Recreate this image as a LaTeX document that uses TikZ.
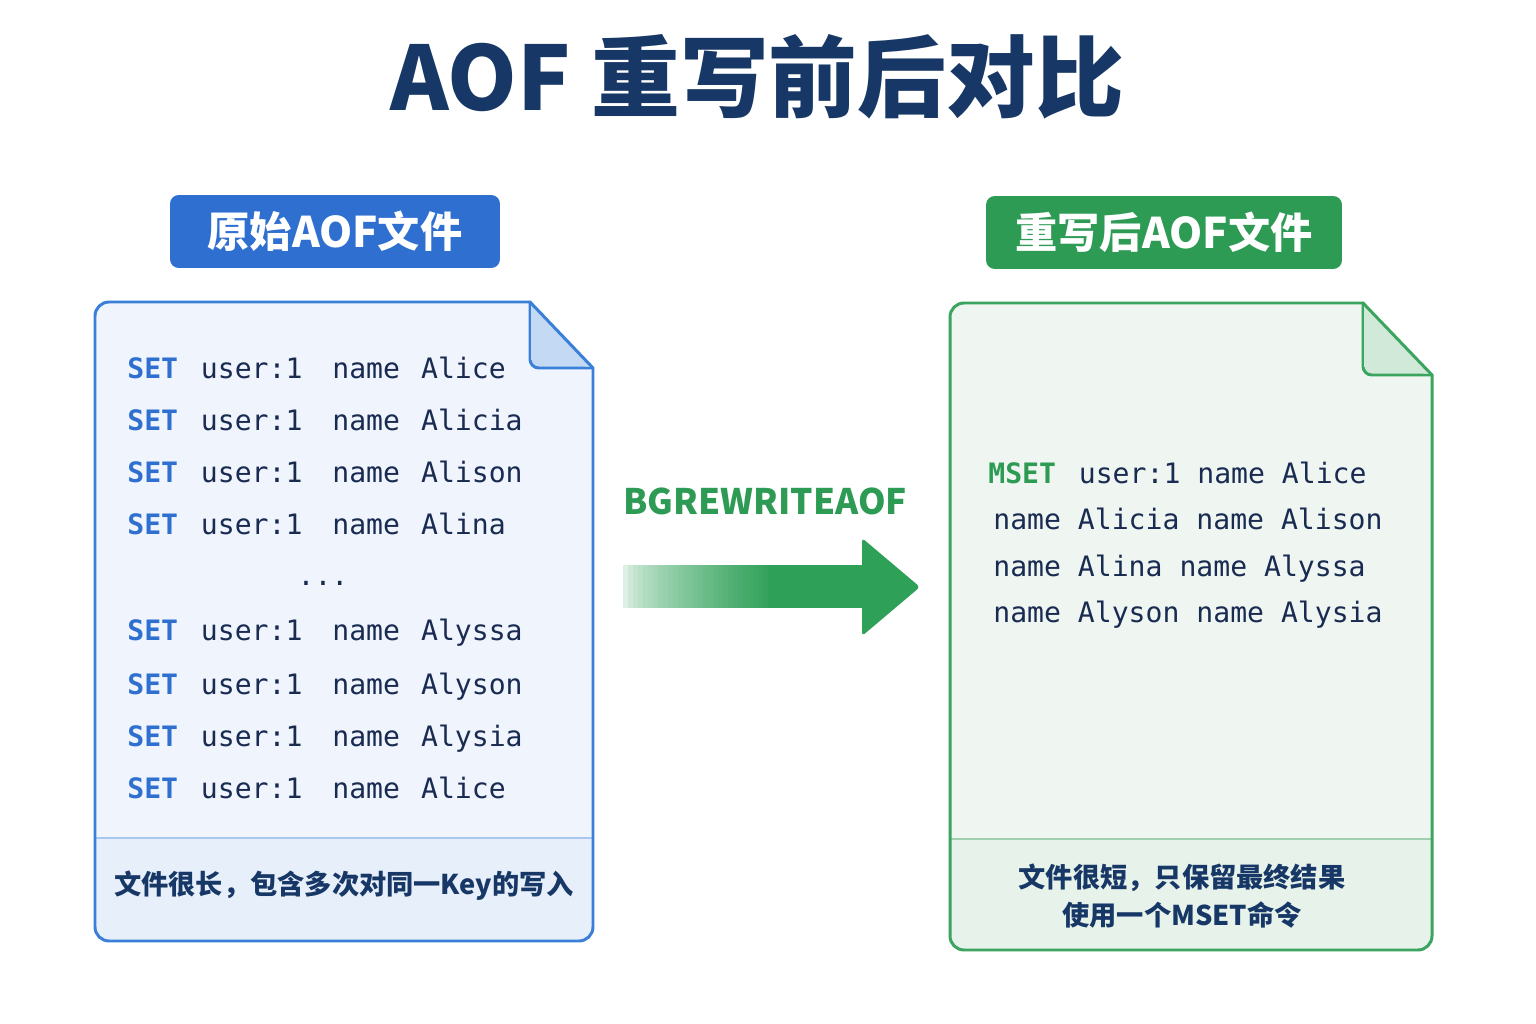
\documentclass[tikz,border=0pt]{standalone}
\usepackage{fontspec}
\setmainfont{Noto Sans CJK SC}
\setmonofont{DejaVu Sans Mono}
\definecolor{navy}{HTML}{173866}
\definecolor{codenavy}{HTML}{1A2B52}
\definecolor{blueA}{HTML}{2E6FD0}
\definecolor{blueB}{HTML}{3A80D8}
\definecolor{bluefill}{HTML}{F0F5FD}
\definecolor{bluefill2}{HTML}{E7EFFB}
\definecolor{bluefold}{HTML}{C3D9F4}
\definecolor{bluediv}{HTML}{A9C7EE}
\definecolor{greenA}{HTML}{2E9B55}
\definecolor{greenB}{HTML}{3BA45F}
\definecolor{greenarrow}{HTML}{2FA058}
\definecolor{greenfill}{HTML}{EFF6F1}
\definecolor{greenfill2}{HTML}{E7F2EA}
\definecolor{greenfold}{HTML}{D0E9D8}
\definecolor{greendiv}{HTML}{9FCFAE}
\newcommand\setline[1]{{\bfseries\color{blueA}SET}\hspace{13pt}user:1\hspace{17pt}name\hspace{12pt}#1}
\begin{document}
\begin{tikzpicture}[x=0.02cm,y=-0.02cm,
  code/.style={anchor=base west, inner sep=0pt, font=\ttfamily\fontsize{16}{18}\selectfont, text=codenavy},
  lbl/.style={rounded corners=5pt, minimum height=1.46cm, text=white, font=\bfseries\fontsize{24}{28}\selectfont},
  note/.style={text=navy, font=\bfseries\fontsize{15.5}{21.6}\selectfont, align=center},
  border/.style={line width=1.7pt, line cap=round, line join=round}]
\useasboundingbox (0,0) rectangle (1536,1024);
\fill[white] (0,0) rectangle (1536,1024);

% title
\node[font=\bfseries\fontsize{50.5}{58}\selectfont, text=navy] (title) at (757,77) {AOF 重写前后对比};

% labels
\node[lbl, fill=blueA, minimum width=6.6cm] (lblL) at (335,231.5) {原始AOF文件};
\node[lbl, fill=greenA, minimum width=7.12cm] (lblR) at (1164,232.5) {重写后AOF文件};

% ---------- left document ----------
\fill[bluefill, rounded corners=8pt] (530,302) -- (95,302) -- (95,941) -- (593,941) -- (593,368);
\fill[bluefill2, rounded corners=8pt] (95,838) -- (95,941) -- (593,941) -- (593,838) -- cycle;
\fill[bluefill2] (95,838) rectangle (593,860);
\draw[bluediv, line width=1.2pt] (95,838) -- (593,838);
\draw[blueB, border, rounded corners=8pt] (530,302) -- (95,302) -- (95,941) -- (593,941) -- (593,368);
\filldraw[fill=bluefold, draw=blueB, border, rounded corners=5pt] (530,302) -- (530,368) -- (593,368);
\fill[bluefold] (531,303) -- (531,360) -- (591,367) -- cycle;
\draw[blueB, border] (530,302) -- (593,368);

\node[code] (l1) at (127,378) {\setline{Alice}};
\node[code] (l2) at (127,430) {\setline{Alicia}};
\node[code] (l3) at (127,482) {\setline{Alison}};
\node[code] (l4) at (127,534) {\setline{Alina}};
\node[code, anchor=base] (ldots) at (323,585) {...};
\node[code] (l5) at (127,640) {\setline{Alyssa}};
\node[code] (l6) at (127,694) {\setline{Alyson}};
\node[code] (l7) at (127,746) {\setline{Alysia}};
\node[code] (l8) at (127,798) {\setline{Alice}};
\node[note] (noteL) at (344,886) {文件很长，包含多次对同一Key的写入};

% ---------- arrow ----------
\node[anchor=base west, inner sep=0pt, text=greenA, font=\bfseries\fontsize{20}{24}\selectfont] (cmd) at (623,514) {BGREWRITEAOF};
\foreach \i in {0,...,29}{
  \pgfmathsetmacro\pct{int(16+84*(\i/29)^0.7)}
  \fill[greenarrow!\pct!white] ({623+5*\i},565) rectangle ({629+5*\i},608);
}
\fill[greenarrow] (772,565) rectangle (866,608);
\fill[greenarrow, rounded corners=2pt] (862,538) -- (920,587) -- (862,636) -- cycle;

% ---------- right document ----------
\fill[greenfill, rounded corners=8pt] (1363,303) -- (950,303) -- (950,950) -- (1432,950) -- (1432,375);
\fill[greenfill2, rounded corners=8pt] (950,839) -- (950,950) -- (1432,950) -- (1432,839) -- cycle;
\fill[greenfill2] (950,839) rectangle (1432,860);
\draw[greendiv, line width=1.2pt] (950,839) -- (1432,839);
\draw[greenB, border, rounded corners=8pt] (1363,303) -- (950,303) -- (950,950) -- (1432,950) -- (1432,375);
\filldraw[fill=greenfold, draw=greenB, border, rounded corners=5pt] (1363,303) -- (1363,375) -- (1432,375);
\fill[greenfold] (1364,304) -- (1364,367) -- (1430,374) -- cycle;
\draw[greenB, border] (1363,303) -- (1432,375);

\node[code] (r1) at (988,483) {{\bfseries\color{greenA}MSET}\hspace{13pt}user:1 name Alice};
\node[code] (r2) at (993,529) {name Alicia name Alison};
\node[code] (r3) at (993,576) {name Alina name Alyssa};
\node[code] (r4) at (993,622) {name Alyson name Alysia};
\node[note] (noteR) at (1182,896) {文件很短，只保留最终结果\\使用一个MSET命令};
\end{tikzpicture}
\end{document}
